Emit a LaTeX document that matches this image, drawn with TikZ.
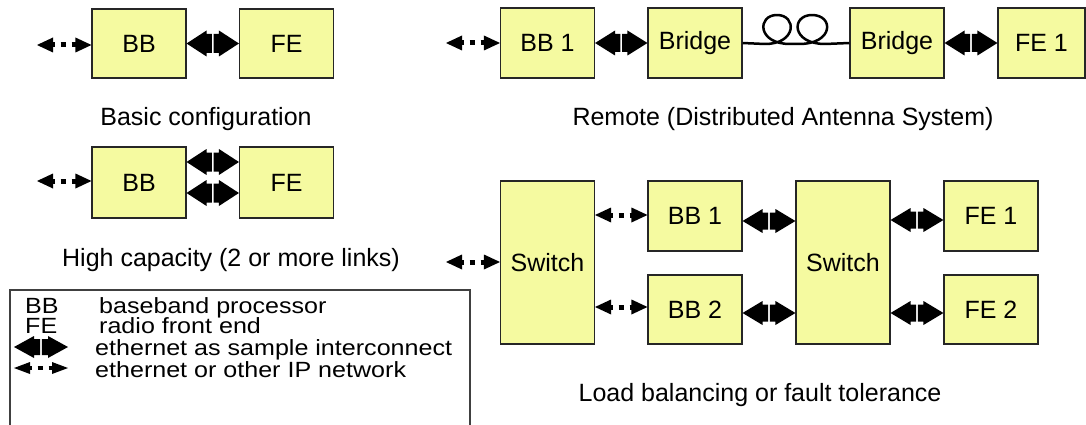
\documentclass[tikz,border=0pt]{standalone}
\usepackage{fontspec}
\setmainfont{Liberation Sans}
\newfontfamily\legendfont{Liberation Sans}[FakeStretch=1.14]
\usetikzlibrary{calc}
\definecolor{boxfill}{RGB}{245,250,160}

% Solid double-headed link (two arrow halves with a thin gap in the middle)
% #1 left end, #2 right end, #3 head half-height, #4 shaft half-height
\newcommand{\ethlink}[4]{%
  \fill[black] #1 -- ($#1+(20,-#3)$) -- ($#1+(20,-#4)$)
      -- ($#1!0.5!#2+(-0.8,-#4)$) -- ($#1!0.5!#2+(-0.8,#4)$)
      -- ($#1+(20,#4)$) -- ($#1+(20,#3)$) -- cycle
    #2 -- ($#2+(-20,-#3)$) -- ($#2+(-20,-#4)$)
      -- ($#1!0.5!#2+(0.8,-#4)$) -- ($#1!0.5!#2+(0.8,#4)$)
      -- ($#2+(-20,#4)$) -- ($#2+(-20,#3)$) -- cycle;}

% Dotted double-headed link
% #1 left end, #2 right end, #3 head half-height, #4 line width
\newcommand{\iplink}[4]{%
  \fill[black] #1 -- ($#1+(16,-#3)$) -- ($#1+(16,#3)$) -- cycle
    #2 -- ($#2+(-16,-#3)$) -- ($#2+(-16,#3)$) -- cycle;
  \draw[black, line width=#4pt, dash pattern=on 5pt off 6pt, dash phase=3pt]
    ($#1+(15.5,0)$) -- ($#2+(-15.5,0)$);}

\begin{document}
\begin{tikzpicture}[x=1pt, y=-1pt,
  txt/.style={font=\fontsize{25}{30}\selectfont, inner sep=0pt},
  legtxt/.style={font=\legendfont\fontsize{22}{26}\selectfont, inner sep=0pt, anchor=base west},
  blk/.style={txt, draw=black!85, line width=1.1pt, fill=boxfill,
              minimum width=94pt, minimum height=70pt},
  tallblk/.style={blk, minimum height=163pt},
  fiber/.style={line width=2.5pt, line join=round},
  legendframe/.style={draw=black!75, line width=1.3pt}]
\useasboundingbox (0,0) rectangle (1086,425);

% ---------- basic configuration ----------
\node[blk, minimum height=69pt] (bbA) at (139,43.5) {BB};
\node[blk, minimum height=69pt] (feA) at (286.5,43.5) {FE};
\coordinate (inA) at (37,45);
\coordinate (inAe) at (inA -| bbA.west);
\iplink{(inA)}{(inAe)}{7.5}{5}
\ethlink{(bbA.east)}{(feA.west)}{13}{9.5}
\node[txt, anchor=base] (capA) at (206,125) {Basic configuration};

% ---------- high capacity ----------
\node[blk, minimum height=71pt] (bbB) at (139,182.5) {BB};
\node[blk, minimum height=71pt] (feB) at (286.5,182.5) {FE};
\coordinate (inB) at (37,181);
\coordinate (inBe) at (inB -| bbB.west);
\iplink{(inB)}{(inBe)}{7.5}{5}
\coordinate (hc1a) at ($(bbB.east)+(0,-20.5)$);
\coordinate (hc1b) at (hc1a -| feB.west);
\coordinate (hc2a) at ($(bbB.east)+(0,10.5)$);
\coordinate (hc2b) at (hc2a -| feB.west);
\ethlink{(hc1a)}{(hc1b)}{13}{9.5}
\ethlink{(hc2a)}{(hc2b)}{13}{9.5}
\node[txt, anchor=base] (capB) at (231,266) {High capacity (2 or more links)};

% ---------- remote (DAS) ----------
\node[blk] (bbR) at (547.5,43) {BB 1};
\node[blk] (brA) at (695,43) {Bridge};
\node[blk] (brB) at (897,43) {Bridge};
\node[blk, minimum width=87pt] (feR) at (1041.5,43) {FE 1};
\coordinate (inR) at (446,43);
\coordinate (inRe) at (inR -| bbR.west);
\iplink{(inR)}{(inRe)}{7.5}{5}
\ethlink{(bbR.east)}{(brA.west)}{12.5}{9}
\ethlink{(brB.east)}{(feR.west)}{12.5}{9}
% fibre with two coils
\draw[fiber] (brA.east) -- (765,44)
  .. controls (797,44) and (797,15) .. (777,15)
  .. controls (757,15) and (757,44) .. (790,44)
  -- (799,44)
  .. controls (834,44) and (834,15) .. (812,15)
  .. controls (791,15) and (791,44) .. (825,44)
  -- (brB.west);
\node[txt, anchor=base] (capR) at (783,125) {Remote (Distributed Antenna System)};

% ---------- load balancing ----------
\node[tallblk] (sw1) at (547.5,262.5) {Switch};
\node[blk] (bb1) at (695,216) {BB 1};
\node[blk, minimum height=69pt] (bb2) at (695,309.5) {BB 2};
\node[tallblk] (sw2) at (843,262.5) {Switch};
\node[blk] (fe1) at (991,216) {FE 1};
\node[blk, minimum height=69pt] (fe2) at (991,309.5) {FE 2};

\coordinate (inS) at (446,262);
\coordinate (inSe) at (inS -| sw1.west);
\iplink{(inS)}{(inSe)}{7.5}{5}
\coordinate (s1b) at ($(bb1.west)+(0,-1)$);
\coordinate (s1a) at (s1b -| sw1.east);
\iplink{(s1a)}{(s1b)}{7.5}{5}
\coordinate (s2b) at ($(bb2.west)+(0,-2.5)$);
\coordinate (s2a) at (s2b -| sw1.east);
\iplink{(s2a)}{(s2b)}{7.5}{5}

\coordinate (t1a) at ($(bb1.east)+(0,5)$);
\coordinate (t1b) at (t1a -| sw2.west);
\ethlink{(t1a)}{(t1b)}{12}{8.5}
\coordinate (t2a) at ($(bb2.east)+(0,3.5)$);
\coordinate (t2b) at (t2a -| sw2.west);
\ethlink{(t2a)}{(t2b)}{12}{8.5}
\coordinate (t3b) at ($(fe1.west)+(0,4)$);
\coordinate (t3a) at (t3b -| sw2.east);
\ethlink{(t3a)}{(t3b)}{12}{8.5}
\coordinate (t4b) at ($(fe2.west)+(0,3.5)$);
\coordinate (t4a) at (t4b -| sw2.east);
\ethlink{(t4a)}{(t4b)}{12}{8.5}
\node[txt, anchor=base] (capL) at (760,401) {Load balancing or fault tolerance};

% ---------- legend ----------
\draw[legendframe] (10,427) -- (10,290) -- (470,290) -- (470,427);
\node[legtxt] (lgBB) at (25,313) {BB};
\node[legtxt] (lgBBt) at (99,313) {baseband processor};
\node[legtxt] (lgFE) at (25,333) {FE};
\node[legtxt] (lgFEt) at (99,333) {radio front end};
\coordinate (lg1a) at (14,347);
\coordinate (lg1b) at (68,347);
\ethlink{(lg1a)}{(lg1b)}{11}{8}
\node[legtxt] (lgEth) at (95,355) {ethernet as sample interconnect};
\coordinate (lg2a) at (14,368);
\coordinate (lg2b) at (68,368);
\iplink{(lg2a)}{(lg2b)}{6}{4}
\node[legtxt] (lgIP) at (95,377) {ethernet or other IP network};
\end{tikzpicture}
\end{document}
